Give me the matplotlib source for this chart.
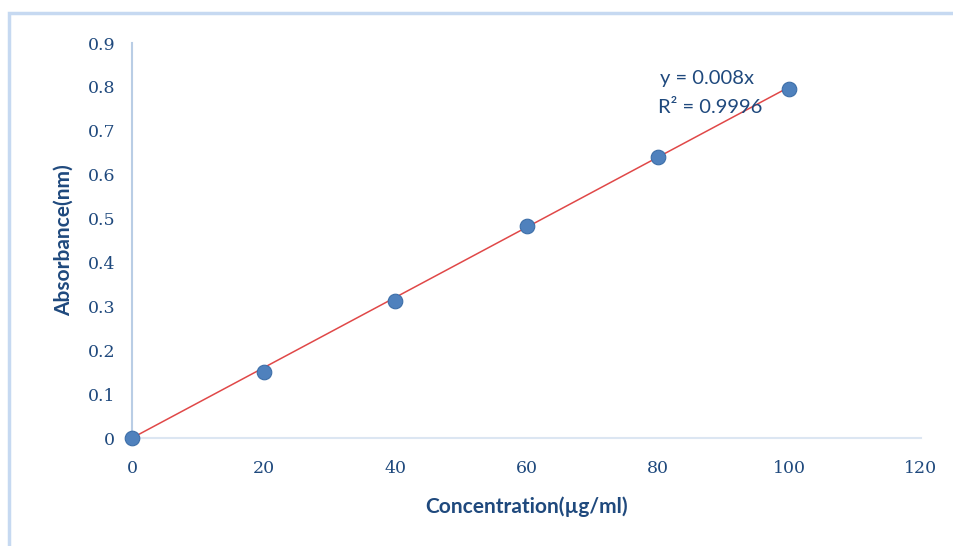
import numpy as np
import matplotlib.pyplot as plt

conc = [0, 20, 40, 60, 80, 100]
absorb = [0.0, 0.151, 0.313, 0.482, 0.640, 0.795]
slope = 0.008
r2 = 0.9996

x_ticks = [0, 20, 40, 60, 80, 100, 120]
y_ticks = [0, 0.1, 0.2, 0.3, 0.4, 0.5, 0.6, 0.7, 0.8, 0.9]

txt_col = '#1F497D'

fig = plt.figure(figsize=(9.54, 5.46), dpi=100)
ax = fig.add_axes([0.1384, 0.1978, 0.827, 0.7234])

# trendline through origin
xt = np.array([0, 100])
ax.plot(xt, slope * xt, color='#E04848', lw=1.1, zorder=2)
ax.plot(conc, absorb, 'o', ms=10.5, color='#4F81BD', mec='#3C6EA8', mew=0.8,
        zorder=3, clip_on=False)

ax.set_xlim(0, 120)
ax.set_ylim(0, 0.9)
ax.set_xticks(x_ticks)
ax.set_yticks(y_ticks)
ax.set_yticklabels(['0' if v == 0 else '%.1f' % v for v in y_ticks])
ax.tick_params(length=0, labelsize=12.5, labelcolor=txt_col, pad=12)
for lab in ax.get_xticklabels() + ax.get_yticklabels():
    lab.set_family('DejaVu Serif')
ax.tick_params(axis='x', pad=16)

for s in ['top', 'right']:
    ax.spines[s].set_visible(False)
ax.spines['left'].set_color('#B9CDE5')
ax.spines['bottom'].set_color('#DCE6F2')
ax.spines['left'].set_linewidth(1.5)
ax.spines['bottom'].set_linewidth(1.5)

ax.set_xlabel('Concentration(µg/ml)', fontsize=15, fontweight='bold', color=txt_col,
              family='Lato', labelpad=14)
ax.set_ylabel('Absorbance(nm)', fontsize=15, fontweight='bold', color=txt_col,
              family='Lato', labelpad=10)

ax.text(87.4, 0.82, 'y = 0.008x', ha='center', va='center', fontsize=14.5,
        color=txt_col, family='Lato')
ax.text(88.0, 0.752, 'R² = %.4f' % r2, ha='center', va='center', fontsize=14.5,
        color=txt_col, family='Lato')

# outer chart border (Excel chart area)
border = plt.Rectangle((9 / 954, -0.05), 1.1, 1 - 13 / 546 + 0.05, transform=fig.transFigure,
                       fill=False, ec='#C6D9F1', lw=2.5)
fig.patches.append(border)

fig.savefig('out.png', dpi=100)
